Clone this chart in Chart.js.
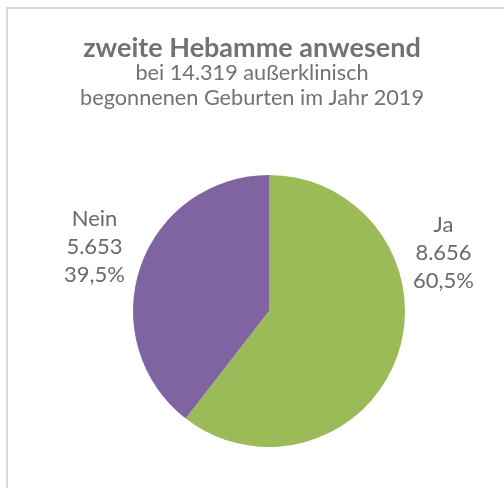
<!DOCTYPE html>
<html>
<head>
<meta charset="utf-8">
<script src="https://cdn.jsdelivr.net/npm/chart.js@4"></script>
<style>
    html, body { margin: 0; padding: 0; background: #fff; overflow: hidden; }
    #frame {
        position: absolute; left: 6px; top: 7px; width: 600px; height: 600px;
        border-top: 2px solid #d9d9d9; border-left: 2px solid #d9d9d9;
    }
    #chart { position: absolute; left: 0; top: 0; }
</style>
</head>
<body>
<div id="frame"></div>
<canvas id="chart" width="504" height="488"></canvas>
<script>
// Datos del grafico
const categories = ['Ja', 'Nein'];
const counts = [8656, 5653];
const colors = ['#9BBB59', '#8064A2'];
const titleText = 'zweite Hebamme anwesend';
const subtitleLines = ['bei 14.319 außerklinisch', 'begonnenen Geburten im Jahr 2019'];

Chart.defaults.font.family = 'Lato';

// Titulo centrado sobre todo el lienzo (el pastel queda algo a la derecha)
const headerText = {
    id: 'headerText',
    beforeDraw(chart) {
        const ctx = chart.ctx;
        const cx = chart.width / 2;
        ctx.save();
        ctx.fillStyle = '#727272';
        ctx.textAlign = 'center';
        ctx.textBaseline = 'alphabetic';
        ctx.font = 'bold 27px Lato';
        ctx.fillText(titleText, cx, 57);
        ctx.font = '21.7px Lato';
        subtitleLines.forEach((t, k) => ctx.fillText(t, cx, 80 + k * 25));
        ctx.restore();
    }
};

// Etiquetas al lado del pastel (estilo Excel)
const sideLabels = {
    id: 'sideLabels',
    afterDatasetsDraw(chart) {
        const ctx = chart.ctx;
        const meta = chart.getDatasetMeta(0);
        const data = chart.data.datasets[0].data;
        const total = data.reduce((a, b) => a + b, 0);

        ctx.save();
        ctx.font = '22px Lato';
        ctx.fillStyle = '#6a6a6a';
        ctx.textAlign = 'center';
        ctx.textBaseline = 'middle';

        meta.data.forEach((arc, i) => {
            const mid = (arc.startAngle + arc.endAngle) / 2;
            const side = Math.cos(mid) >= 0 ? 1 : -1;
            const r = arc.outerRadius;
            const x = arc.x + side * (r + 38.5);
            const y = arc.y - r * 0.45 + r * 0.06 * Math.sin(mid);
            const pct = ((data[i] / total) * 100).toFixed(1).replace('.', ',') + '%';
            const lines = [chart.data.labels[i], data[i].toLocaleString('de-DE'), pct];
            lines.forEach((t, k) => ctx.fillText(t, x, y + (k - 1) * 28));
        });
        ctx.restore();
    }
};

new Chart(document.getElementById('chart'), {
    type: 'pie',
    data: {
        labels: categories,
        datasets: [{
            data: counts,
            backgroundColor: colors,
            borderWidth: 0
        }]
    },
    options: {
        responsive: false,
        animation: false,
        layout: { padding: { left: 34, right: 0, top: 175, bottom: 41 } },
        plugins: {
            legend: { display: false },
            tooltip: { enabled: false },
            title: { display: false }
        }
    },
    plugins: [headerText, sideLabels]
});
</script>
</body>
</html>
